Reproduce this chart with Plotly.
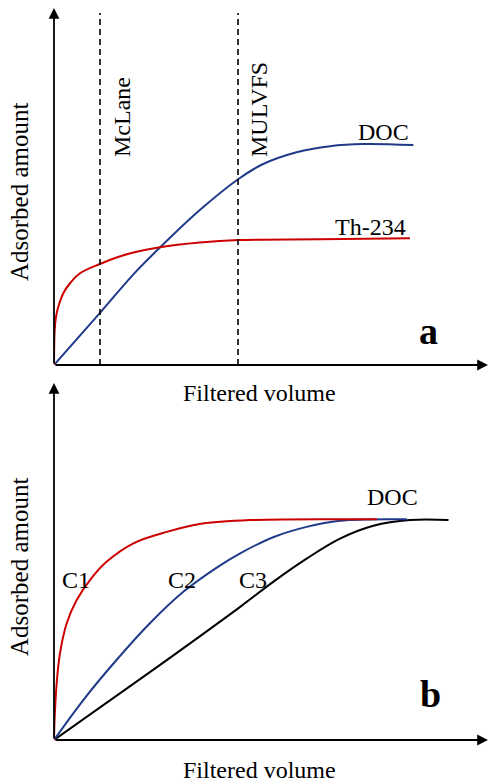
import plotly.graph_objects as go

# ---------------- data (arbitrary units, 0-100 on both axes) ----------------
# Panel a
doc_a_x = [0, 10.6, 18.3, 24.4, 33.6, 42.5, 48.2, 55.9, 63.6, 71.3, 82.8]
doc_a_y = [0, 14.6, 25.4, 32.9, 43.4, 52.1, 56.3, 59.6, 61.3, 61.9, 61.6]
th_x = [0, 0.16, 0.46, 0.99, 2.14, 3.69, 5.99, 10.6, 14.4, 18.3, 24.4, 33.6, 42.5, 61.3, 82.0]
th_y = [0, 9.8, 13.5, 16.3, 20.1, 22.9, 25.7, 28.3, 30.1, 31.5, 33.0, 34.3, 35.0, 35.2, 35.5]
mclane_x = 10.6
mulvfs_x = 42.4

# Panel b
c1_x = [0, 0.16, 0.62, 1.38, 2.93, 5.23, 8.29, 12.1, 18.3, 26.0, 33.6, 45.2, 74.4]
c1_y = [0, 6.5, 15.9, 24.3, 32.7, 39.2, 44.8, 49.9, 55.1, 58.3, 60.5, 61.6, 61.8]
c2_x = [0, 6.75, 14.4, 22.1, 29.8, 37.5, 42.9, 50.5, 58.2, 65.9, 81.3]
c2_y = [0, 11.2, 22.4, 32.7, 41.5, 48.3, 52.3, 56.8, 59.7, 61.4, 61.8]
c3_x = [0, 22.1, 42.9, 50.5, 58.2, 65.9, 73.6, 82.0, 90.9]
c3_y = [0, 19.0, 37.3, 44.3, 50.8, 56.4, 60.0, 61.6, 61.6]

RED = "#cc0000"
BLUE = "#1f3a8a"
BLACK = "#000000"
FONT = "Liberation Serif"

W, H = 490, 784
x0_px, x1_px = 54, 488
a_bot, a_top = 365, 8
b_bot, b_top = 740, 383

def py(p):
    return 1 - p / H

fig = go.Figure()

def line(x, y, color, xa, ya):
    fig.add_trace(go.Scatter(x=x, y=y, mode="lines",
                             line=dict(color=color, width=2, shape="spline", smoothing=1.0),
                             xaxis=xa, yaxis=ya, showlegend=False, hoverinfo="skip"))

line(doc_a_x, doc_a_y, BLUE, "x", "y")
line(th_x, th_y, RED, "x", "y")
for vx in (mclane_x, mulvfs_x):
    fig.add_trace(go.Scatter(x=[vx, vx], y=[0, 98.6], mode="lines",
                             line=dict(color=BLACK, width=1.6, dash="6px,4px"),
                             xaxis="x", yaxis="y", showlegend=False, hoverinfo="skip"))

line(c3_x, c3_y, BLACK, "x2", "y2")
line(c2_x, c2_y, BLUE, "x2", "y2")
line(c1_x, c1_y, RED, "x2", "y2")

ax_common = dict(range=[0, 100], showgrid=False, zeroline=False, showline=False,
                 showticklabels=False, ticks="", fixedrange=True)
dx = [x0_px / W, x1_px / W]
fig.update_layout(
    width=W, height=H, margin=dict(l=0, r=0, t=0, b=0),
    paper_bgcolor="white", plot_bgcolor="rgba(0,0,0,0)",
    xaxis=dict(domain=dx, anchor="y", **ax_common),
    yaxis=dict(domain=[py(a_bot), py(a_top)], anchor="x", **ax_common),
    xaxis2=dict(domain=dx, anchor="y2", **ax_common),
    yaxis2=dict(domain=[py(b_bot), py(b_top)], anchor="x2", **ax_common),
)

ann = []
# axis arrows
for xr, yr in (("x", "y"), ("x2", "y2")):
    ann.append(dict(x=100, y=0, ax=0, ay=0, xref=xr, yref=yr, axref=xr, ayref=yr,
                    showarrow=True, arrowhead=2, arrowsize=1.2, arrowwidth=1.8, arrowcolor=BLACK, text=""))
    ann.append(dict(x=0, y=100, ax=0, ay=0, xref=xr, yref=yr, axref=xr, ayref=yr,
                    showarrow=True, arrowhead=2, arrowsize=1.2, arrowwidth=1.8, arrowcolor=BLACK, text=""))

def txt(text, x, y, size=24, angle=0, bold=False):
    t = f"<b>{text}</b>" if bold else text
    ann.append(dict(text=t, x=x / W, y=py(y), xref="paper", yref="paper", showarrow=False,
                    xanchor="center", yanchor="middle", textangle=angle,
                    font=dict(family=FONT, size=size, color=BLACK)))

# panel a texts
txt("Filtered volume", 259, 393)
txt("Adsorbed amount", 19, 192, size=25, angle=-90)
txt("McLane", 122, 117, angle=-90)
txt("MULVFS", 259, 110, angle=-90)
txt("DOC", 383, 132)
txt("Th-234", 370, 227)
txt("a", 428, 331, size=38, bold=True)
# panel b texts
txt("Filtered volume", 259, 770)
txt("Adsorbed amount", 19, 567, size=25, angle=-90)
txt("DOC", 392, 497)
txt("C1", 76, 580)
txt("C2", 182, 580)
txt("C3", 253, 580)
txt("b", 430, 694, size=38, bold=True)

fig.update_layout(annotations=ann)
fig.write_html("out.html")
